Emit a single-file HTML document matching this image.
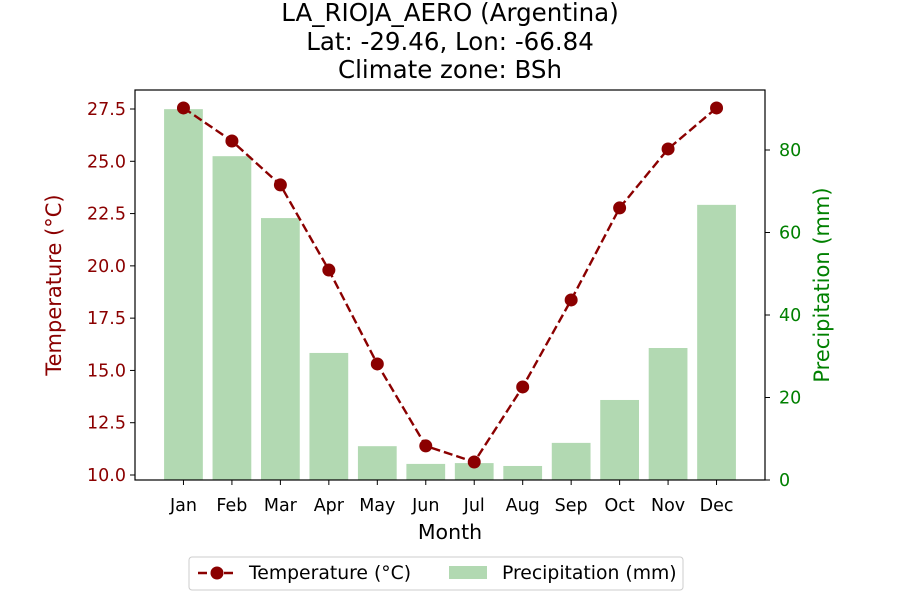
<!DOCTYPE html>
<html><head><meta charset="utf-8"><style>
body{margin:0;background:#fff;}
svg text{font-family:"DejaVu Sans","Liberation Sans",sans-serif;}
</style></head><body>
<svg width="900" height="600" viewBox="0 0 900 600">
<g id="title" font-size="24.5" text-anchor="middle" fill="#000">
<text x="450" y="21">LA_RIOJA_AERO (Argentina)</text>
<text x="450" y="50">Lat: -29.46, Lon: -66.84</text>
<text x="450" y="78">Climate zone: BSh</text>
</g>
<g id="bars"></g>
<g id="line"></g>
<rect x="135" y="90" width="630" height="390" fill="none" stroke="#000" stroke-width="1.2"/>
<g id="xt"></g>
<g id="yl"></g>
<g id="yr"></g>
<text x="450" y="539" font-size="20.5" text-anchor="middle">Month</text>
<text transform="translate(61,285) rotate(-90)" font-size="21" text-anchor="middle" fill="#8b0000">Temperature (°C)</text>
<text transform="translate(829,285) rotate(-90)" font-size="21" text-anchor="middle" fill="#008000">Precipitation (mm)</text>
<g>
<rect x="189" y="557" width="494" height="33" rx="3" fill="#fff" stroke="#ccc"/>
<g>
<line x1="198" y1="573" x2="236" y2="573" stroke="#8b0000" stroke-width="2.4" stroke-dasharray="9,4"/>
<circle cx="217" cy="573" r="6.5" fill="#8b0000"/>
<text x="249" y="579" font-size="18.8">Temperature (°C)</text></g>
<g>
<rect x="449" y="566" width="38" height="13" fill="#008000" fill-opacity="0.3"/>
<text x="502" y="579" font-size="18.8">Precipitation (mm)</text></g>
</g>
</svg>
<script>
const months=["Jan","Feb","Mar","Apr","May","Jun","Jul","Aug","Sep","Oct","Nov","Dec"];
const temperature=[27.55,25.97,23.87,19.8,15.31,11.39,10.62,14.21,18.37,22.77,25.59,27.55];
const precipitation=[89.9,78.5,63.5,30.8,8.2,3.9,4.1,3.4,9.0,19.4,32.0,66.7];
const tempTicks=[10.0,12.5,15.0,17.5,20.0,22.5,25.0,27.5];
const precTicks=[0,20,40,60,80];
const NS="http://www.w3.org/2000/svg";
const xS=i=>135+(i+1)*630/13;
const yT=v=>475-(v-10)*20.914;
const yP=v=>480-v*4.125;
function mk(tag,attrs,parent,txt){const e=document.createElementNS(NS,tag);for(const k in attrs)e.setAttribute(k,attrs[k]);if(txt!==undefined)e.textContent=txt;parent.appendChild(e);return e;}
const bars=document.getElementById('bars');
precipitation.forEach((v,i)=>{const bw=0.8*630/13;
const r=mk('rect',{x:xS(i)-bw/2,y:yP(v),width:bw,height:480-yP(v),fill:'#008000','fill-opacity':0.3},bars);

});
const line=document.getElementById('line');
mk('polyline',{points:temperature.map((v,i)=>xS(i)+','+yT(v)).join(' '),fill:'none',stroke:'#8b0000','stroke-width':2.4,'stroke-dasharray':'9,4'},line);
temperature.forEach((v,i)=>{const c=mk('circle',{cx:xS(i),cy:yT(v),r:6.5,fill:'#8b0000'},line);

});
const xt=document.getElementById('xt');
months.forEach((m,i)=>{mk('line',{x1:xS(i),x2:xS(i),y1:480,y2:485,stroke:'#000'},xt);
const t=mk('text',{x:xS(i),y:511,'font-size':17.5,'text-anchor':'middle'},xt,m);

});
const yl=document.getElementById('yl');
tempTicks.forEach(v=>{mk('line',{x1:130,x2:135,y1:yT(v),y2:yT(v),stroke:'#000'},yl);
const t=mk('text',{x:126,y:yT(v)+6,'font-size':17.5,'text-anchor':'end',fill:'#8b0000'},yl,v.toFixed(1));

});
const yr=document.getElementById('yr');
precTicks.forEach(v=>{mk('line',{x1:765,x2:770,y1:yP(v),y2:yP(v),stroke:'#000'},yr);
const t=mk('text',{x:779,y:yP(v)+6,'font-size':17.5,fill:'#008000'},yr,String(v));

});
</script>
</body></html>
